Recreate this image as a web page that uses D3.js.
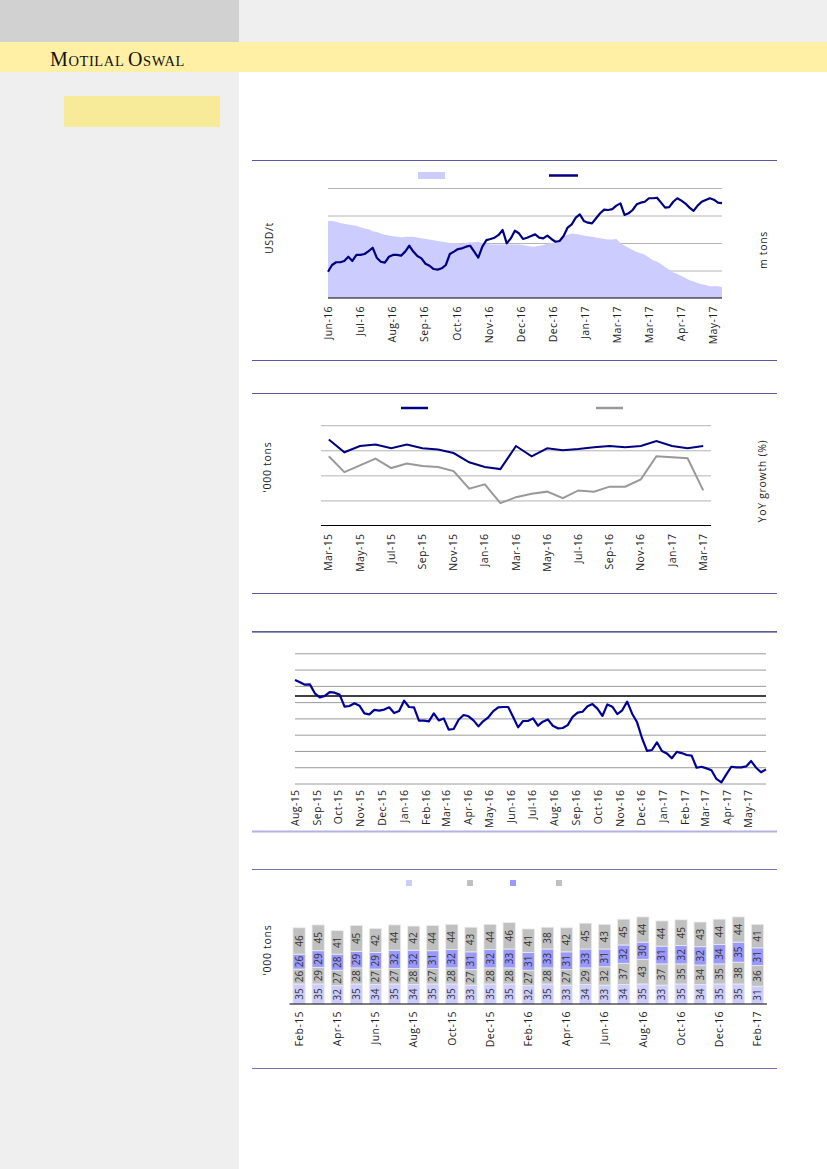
<!DOCTYPE html>
<html>
<head>
<meta charset="utf-8">
<script src="https://cdnjs.cloudflare.com/ajax/libs/d3/7.8.5/d3.min.js"></script>
<style>
  body { margin: 0; background: #fff; }
  svg { display: block; font-family: "Open Sans", sans-serif; }
</style>
</head>
<body>
<div id="page"></div>
<script>
// ---- chart 1: price (left axis) vs stocks (right axis), roughly daily points
const priceTicks = ["Jun-16","Jul-16","Aug-16","Sep-16","Oct-16","Nov-16","Dec-16","Dec-16","Jan-17","Mar-17","Mar-17","Apr-17","May-17"];
const priceUsd = [1543,1580,1595,1595,1602,1625,1602,1635,1635,1640,
  1656,1674,1620,1598,1593,1625,1635,1635,1631,1653,
  1685,1653,1629,1616,1587,1576,1558,1555,1562,1580,
  1640,1653,1667,1671,1680,1685,1653,1620,1680,1716,
  1722,1729,1744,1771,1698,1725,1767,1753,1722,1729,
  1738,1747,1729,1725,1740,1722,1707,1711,1738,1784,
  1802,1838,1856,1820,1811,1807,1835,1862,1882,1880,
  1885,1904,1916,1853,1862,1880,1911,1920,1925,1944,
  1944,1947,1920,1893,1896,1925,1944,1931,1915,1893,
  1875,1904,1925,1935,1944,1936,1920,1918];
const stocksMt = [2.32,2.32,2.31,2.29,2.28,2.27,2.26,2.25,2.23,2.21,
  2.20,2.17,2.16,2.14,2.12,2.11,2.10,2.09,2.08,2.09,
  2.09,2.09,2.08,2.07,2.06,2.05,2.04,2.03,2.02,2.01,
  2.00,2.00,2.00,1.99,2.00,2.01,2.01,2.02,2.00,1.99,
  1.98,1.98,1.98,1.98,1.98,1.98,1.98,1.98,1.97,1.96,
  1.95,1.95,1.96,1.97,1.99,2.00,2.01,2.04,2.09,2.12,
  2.14,2.13,2.12,2.11,2.10,2.09,2.08,2.07,2.06,2.05,
  2.05,2.06,2.00,1.96,1.93,1.90,1.87,1.85,1.83,1.79,
  1.75,1.73,1.69,1.65,1.61,1.57,1.55,1.52,1.49,1.46,
  1.44,1.42,1.40,1.39,1.37,1.37,1.37,1.36];

// ---- chart 2: monthly volume ('000 tons) and YoY growth (%)
const volMonths = ["Mar-15","Apr-15","May-15","Jun-15","Jul-15","Aug-15","Sep-15","Oct-15","Nov-15","Dec-15","Jan-16","Feb-16","Mar-16","Apr-16","May-16","Jun-16","Jul-16","Aug-16","Sep-16","Oct-16","Nov-16","Dec-16","Jan-17","Feb-17","Mar-17"];
const volume = [343,292,317,323,308,323,308,303,289,252,233,225,317,276,308,300,305,312,317,312,317,337,317,308,317];
const volYoy = [7.6,1.3,4.0,6.7,2.9,4.7,3.7,3.3,1.7,-5.3,-3.6,-11.1,-8.7,-7.3,-6.5,-9.1,-6.0,-6.5,-4.5,-4.5,-1.6,7.6,7.2,6.8,-6.0];

// ---- chart 3: weekly series from Aug-15
const weeklyStart = new Date(2015, 7, 1);
const weeklyValues = [83.6,82.2,80.7,80.9,75.4,72.9,73.8,76.2,75.8,74.6,
  67.2,67.6,69.3,67.8,63.1,62.5,65.2,64.8,65.4,66.8,
  63.3,64.5,70.9,67.0,66.8,58.6,58.6,58.2,63.1,58.8,
  60.0,53.1,53.5,59.2,62.1,61.3,58.8,55.1,58.4,60.7,
  64.5,66.8,67.0,67.0,60.9,54.5,58.4,58.4,60.0,55.5,
  58.0,59.4,55.5,53.9,54.1,55.9,60.9,63.5,64.1,67.4,
  68.8,66.0,61.5,68.6,67.2,62.7,65.0,70.3,62.9,57.6,
  47.8,40.0,40.6,45.3,40.0,38.5,35.5,39.4,38.7,37.5,
  37.1,29.7,30.3,29.3,28.1,22.8,20.7,25.6,30.3,29.9,
  29.9,30.5,33.8,29.7,26.9,28.7];
const weeklyRef = 73.8;

// ---- chart 4: stacked monthly volumes ('000 tons)
const stackMonths = ["Feb-15","Mar-15","Apr-15","May-15","Jun-15","Jul-15","Aug-15","Sep-15","Oct-15","Nov-15","Dec-15","Jan-16","Feb-16","Mar-16","Apr-16","May-16","Jun-16","Jul-16","Aug-16","Sep-16","Oct-16","Nov-16","Dec-16","Jan-17","Feb-17"];
const seriesA = [35,35,32,35,34,35,34,35,35,33,35,35,32,35,33,34,33,34,35,33,35,34,35,35,31];
const seriesB = [26,29,27,28,27,27,28,27,28,27,28,28,27,28,27,29,32,37,43,37,35,34,35,38,36];
const seriesC = [26,29,28,29,29,32,32,31,32,31,32,33,31,33,31,33,31,32,30,31,32,32,34,35,31];
const seriesD = [46,45,41,45,42,44,42,44,44,43,44,46,41,38,42,45,43,45,44,44,45,43,44,44,41];

const W = 827, H = 1169;
const svg = d3.select("#page").append("svg").attr("width", W).attr("height", H);

// page furniture
svg.append("rect").attr("width", W).attr("height", H).attr("fill", "#fff");
svg.append("rect").attr("x", 0).attr("y", 0).attr("width", 239).attr("height", H).attr("fill", "#efefef");
svg.append("rect").attr("x", 239).attr("y", 0).attr("width", W - 239).attr("height", 42).attr("fill", "#efefef");
svg.append("rect").attr("x", 0).attr("y", 0).attr("width", 239).attr("height", 42).attr("fill", "#d1d1d1");
svg.append("rect").attr("x", 0).attr("y", 42).attr("width", W).attr("height", 30).attr("fill", "#fff0a5");
svg.append("rect").attr("x", 64).attr("y", 96).attr("width", 156).attr("height", 31).attr("fill", "#f7ea99");

const brand = svg.append("text").attr("x", 50).attr("y", 66)
  .style("font-family", "'Liberation Serif', serif").style("fill", "#111").style("letter-spacing", "0.6px");
brand.append("tspan").style("font-size", "20px").text("M");
brand.append("tspan").style("font-size", "14.5px").text("OTILAL ");
brand.append("tspan").style("font-size", "20px").text("O");
brand.append("tspan").style("font-size", "14.5px").text("SWAL");

const rule = (y, color, w) => svg.append("line")
  .attr("x1", 252).attr("x2", 777).attr("y1", y).attr("y2", y)
  .attr("stroke", color).attr("stroke-width", w);

const axisTitle = (x, y, txt) => svg.append("text")
  .attr("transform", `translate(${x},${y}) rotate(-90)`)
  .attr("text-anchor", "middle").attr("dy", "0.35em")
  .style("font-size", "10.5px").style("letter-spacing", "0.7px").style("fill", "#222")
  .text(txt);

// gridlines via axis with long ticks
function grid(g, scale, values, x0, width, color) {
  g.attr("transform", `translate(${x0},0)`)
    .call(d3.axisLeft(scale).tickValues(values).tickSize(-width).tickFormat(""));
  g.select(".domain").remove();
  g.selectAll("line").attr("stroke", color).attr("stroke-width", 1);
}

// rotated x labels
function xLabels(g, axis, y0, off) {
  g.attr("transform", `translate(0,${y0})`).call(axis);
  g.select(".domain").remove();
  g.selectAll("line").remove();
  g.selectAll("text")
    .attr("transform", "rotate(-90)")
    .attr("text-anchor", "end")
    .attr("x", -off).attr("y", 0).attr("dy", "0.35em")
    .style("font-size", "10.5px").style("letter-spacing", "0.4px")
    .style("font-family", "'Open Sans', sans-serif").style("fill", "#222");
}

// ================= chart 1 =================
rule(160.5, "#5b58a6", 1);
rule(360.5, "#5b58a6", 1);
{
  const left = 328, right = 722, top = 188, bottom = 298;
  const x = d3.scaleLinear().domain([0, priceUsd.length - 1]).range([left, right]);
  const yL = d3.scaleLinear().domain([1400, 2000]).range([bottom, top]);
  const yR = d3.scaleLinear().domain([1.2, 2.8]).range([bottom, top]);

  grid(svg.append("g"), yL, d3.range(1550, 2001, 150), left, right - left, "#b4b4b4");

  svg.append("path").datum(stocksMt)
    .attr("fill", "#ccccff")
    .attr("d", d3.area().x((d, i) => x(i)).y0(bottom).y1(d => yR(d)));

  svg.append("path").datum(priceUsd)
    .attr("fill", "none").attr("stroke", "#000080").attr("stroke-width", 2.2)
    .attr("stroke-linejoin", "round")
    .attr("d", d3.line().x((d, i) => x(i)).y(d => yL(d)));

  svg.append("line").attr("x1", left).attr("x2", right).attr("y1", bottom).attr("y2", bottom)
    .attr("stroke", "#000").attr("stroke-width", 1.2);

  xLabels(svg.append("g"),
    d3.axisBottom(x).tickValues(priceTicks.map((d, k) => k * 7.9)).tickFormat((d, k) => priceTicks[k]),
    bottom, 8);

  // legend swatches
  svg.append("rect").attr("x", 418).attr("y", 172).attr("width", 27).attr("height", 7).attr("fill", "#ccccff");
  svg.append("line").attr("x1", 549).attr("x2", 578).attr("y1", 175.5).attr("y2", 175.5)
    .attr("stroke", "#000080").attr("stroke-width", 2.5);

  axisTitle(269, 238, "USD/t");
  axisTitle(763, 250, "m tons");
}

// ================= chart 2 =================
rule(393.5, "#5b58a6", 1);
rule(593.5, "#5b58a6", 1);
{
  const left = 321, right = 711, top = 425.2, bottom = 525.5;
  const x = d3.scaleBand().domain(volMonths).range([left, right]);
  const cx = d => x(d) + x.bandwidth() / 2;
  const yL = d3.scaleLinear().domain([0, 400]).range([bottom, top]);
  const yR = d3.scaleLinear().domain([-20, 20]).range([bottom, top]);

  grid(svg.append("g"), yL, [100, 200, 300, 400], left, right - left, "#b4b4b4");

  svg.append("path").datum(volYoy)
    .attr("fill", "none").attr("stroke", "#999").attr("stroke-width", 2)
    .attr("d", d3.line().x((d, i) => cx(volMonths[i])).y(d => yR(d)));
  svg.append("path").datum(volume)
    .attr("fill", "none").attr("stroke", "#000080").attr("stroke-width", 2)
    .attr("d", d3.line().x((d, i) => cx(volMonths[i])).y(d => yL(d)));

  svg.append("line").attr("x1", left).attr("x2", right).attr("y1", bottom).attr("y2", bottom)
    .attr("stroke", "#000").attr("stroke-width", 1.2);

  const g = svg.append("g");
  xLabels(g, d3.axisBottom(x).tickValues(volMonths.filter((d, i) => i % 2 === 0)), bottom, 8);

  svg.append("line").attr("x1", 401).attr("x2", 428).attr("y1", 408).attr("y2", 408)
    .attr("stroke", "#000080").attr("stroke-width", 2.5);
  svg.append("line").attr("x1", 596).attr("x2", 623).attr("y1", 408).attr("y2", 408)
    .attr("stroke", "#999").attr("stroke-width", 2.5);

  axisTitle(267, 467, "'000 tons");
  axisTitle(762, 481, "YoY growth (%)");
}

// ================= chart 3 =================
rule(631.8, "#26267a", 1.2);
rule(831.5, "#b4b2e2", 2);
{
  const left = 295, right = 766, top = 653.3, bottom = 783.5;
  const dates = weeklyValues.map((d, i) => d3.timeWeek.offset(weeklyStart, i));
  const x = d3.scaleTime().domain([weeklyStart, dates[dates.length - 1]]).range([left, right]);
  const y = d3.scaleLinear().domain([20, 100]).range([bottom, top]);

  grid(svg.append("g"), y, d3.range(20, 101, 10), left, right - left, "#9a9a9a");

  svg.append("line").attr("x1", left).attr("x2", right).attr("y1", y(weeklyRef)).attr("y2", y(weeklyRef))
    .attr("stroke", "#000").attr("stroke-width", 1.5);

  svg.append("path").datum(weeklyValues)
    .attr("fill", "none").attr("stroke", "#000099").attr("stroke-width", 2.2)
    .attr("stroke-linejoin", "round")
    .attr("d", d3.line().x((d, i) => x(dates[i])).y(d => y(d)));

  xLabels(svg.append("g"),
    d3.axisBottom(x).tickValues(d3.timeMonth.range(weeklyStart, dates[dates.length - 1]))
      .tickFormat(d3.timeFormat("%b-%y")),
    bottom, 6);
}

// ================= chart 4 =================
rule(869.5, "#7670bb", 1);
rule(1068.5, "#7670bb", 1);
{
  const left = 289.5, right = 767, top = 889.4, bottom = 1004;
  const keys = ["a", "b", "c", "d"];
  const colors = { a: "#ccccff", b: "#c0c0c0", c: "#9999ff", d: "#c0c0c0" };
  const table = stackMonths.map((m, i) => ({ month: m, a: seriesA[i], b: seriesB[i], c: seriesC[i], d: seriesD[i] }));
  const stacked = d3.stack().keys(keys)(table);

  const x = d3.scaleBand().domain(stackMonths).range([left, right]).paddingInner(0.36).paddingOuter(0.18);
  const y = d3.scaleLinear().domain([0, 200]).range([bottom, top]);

  const layers = svg.append("g").selectAll("g").data(stacked).join("g")
    .attr("fill", d => colors[d.key]);
  layers.selectAll("rect").data(d => d).join("rect")
    .attr("x", d => x(d.data.month))
    .attr("y", d => y(d[1]))
    .attr("width", x.bandwidth())
    .attr("height", d => y(d[0]) - y(d[1]))
    .attr("stroke", "#ececec").attr("stroke-width", 0.8);

  layers.selectAll("text").data(d => d).join("text")
    .attr("transform", d => `translate(${x(d.data.month) + x.bandwidth() / 2},${(y(d[0]) + y(d[1])) / 2}) rotate(-90)`)
    .attr("text-anchor", "middle").attr("dy", "0.35em")
    .style("font-size", "10px").style("fill", "#333")
    .text(d => d[1] - d[0]);

  svg.append("line").attr("x1", left).attr("x2", right).attr("y1", bottom).attr("y2", bottom)
    .attr("stroke", "#000").attr("stroke-width", 1.2);

  xLabels(svg.append("g"),
    d3.axisBottom(x).tickValues(stackMonths.filter((d, i) => i % 2 === 0)),
    bottom, 7);

  const legendX = [406, 467, 510, 556];
  keys.forEach((k, i) => {
    svg.append("rect").attr("x", legendX[i]).attr("y", 880).attr("width", 6).attr("height", 6).attr("fill", colors[k]);
  });

  axisTitle(267, 950, "'000 tons");
}
</script>
</body>
</html>
